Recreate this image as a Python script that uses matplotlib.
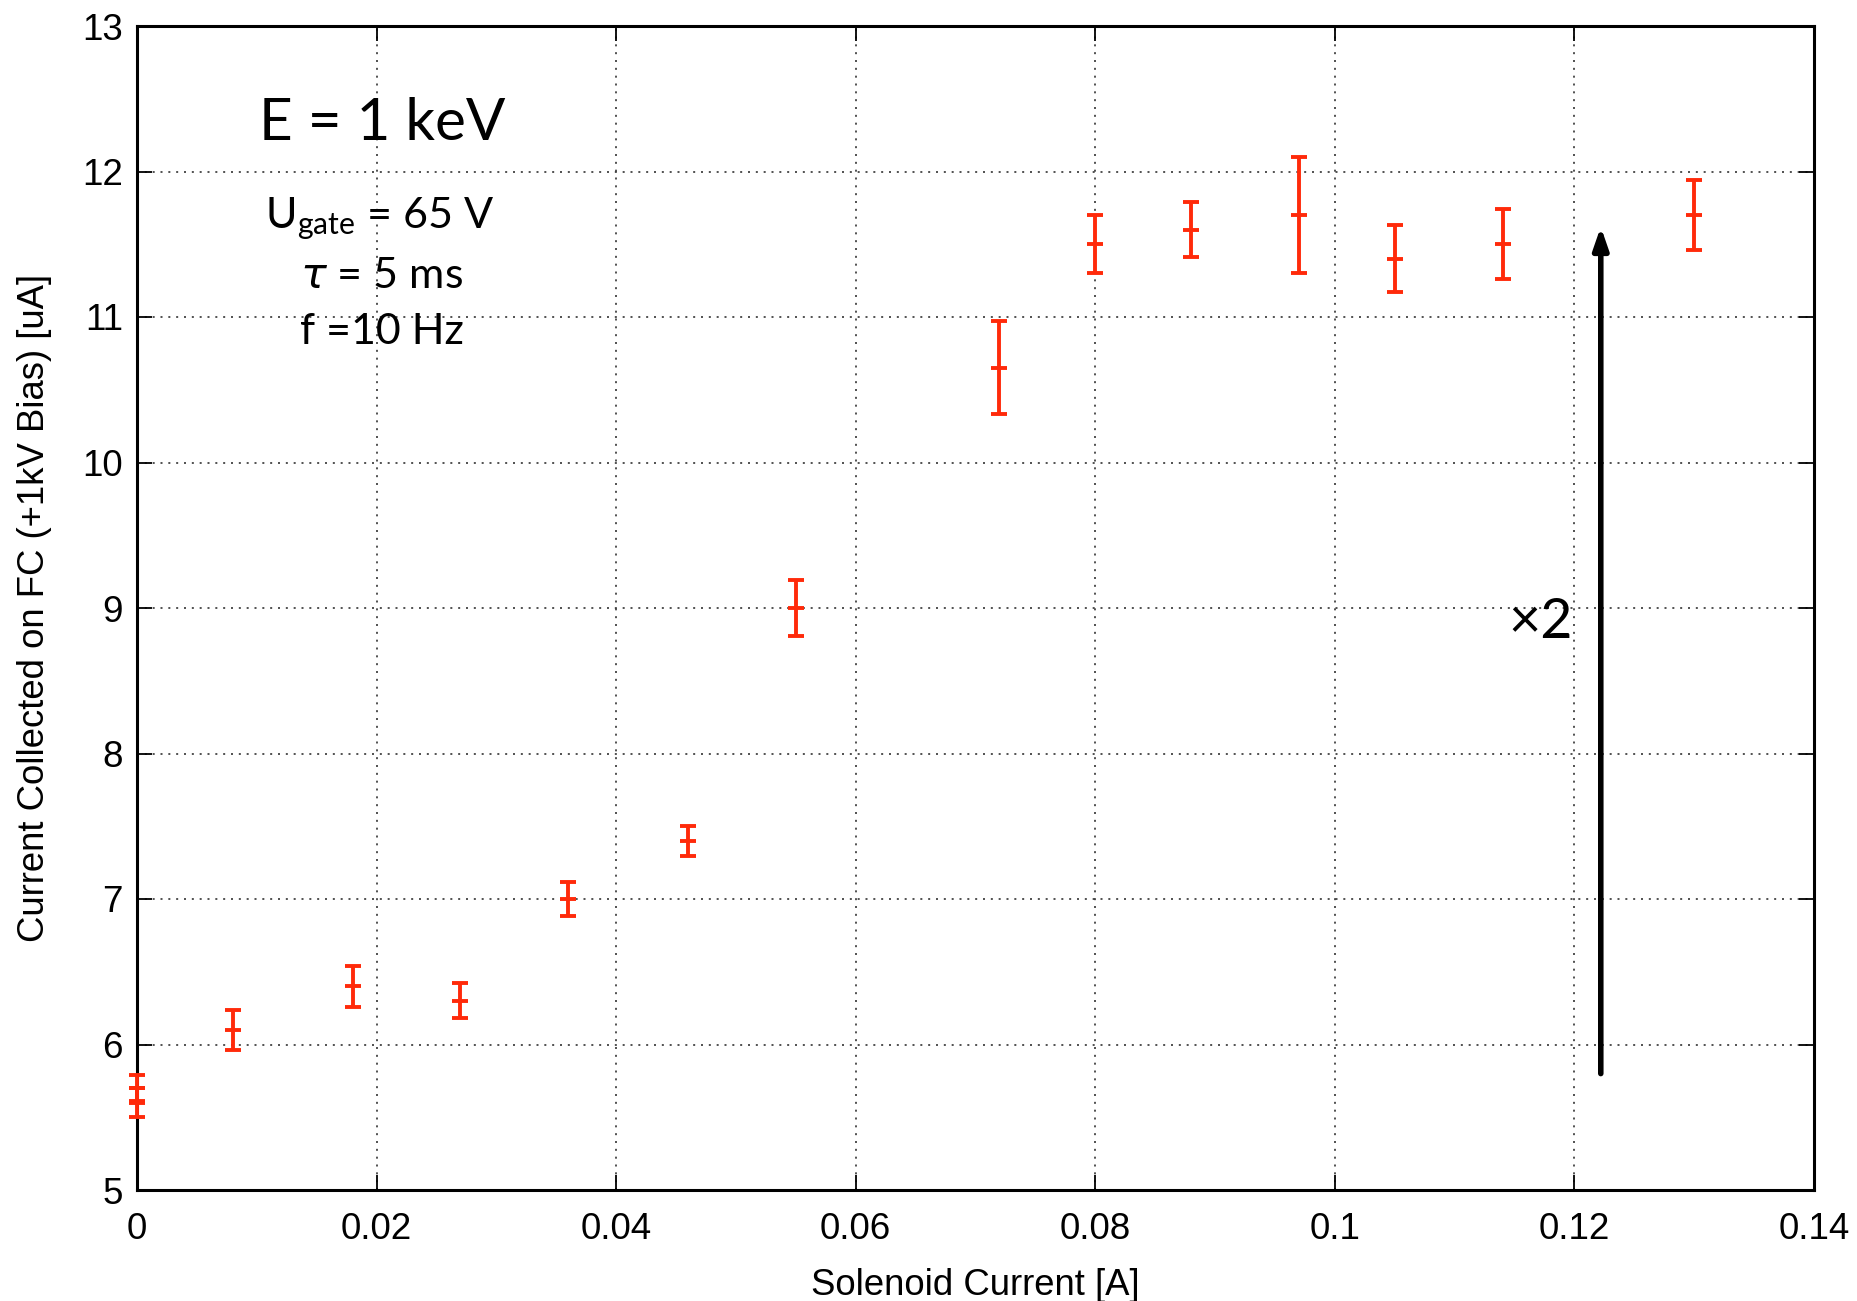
import matplotlib
matplotlib.use("Agg")
import matplotlib.pyplot as plt
import numpy as np

# Data
solenoid_current = [0.0, 0.0, 0.008, 0.018, 0.027, 0.036, 0.046, 0.055, 0.072,
                    0.080, 0.088, 0.097, 0.105, 0.114, 0.130]
fc_current = [5.7, 5.6, 6.1, 6.4, 6.3, 7.0, 7.4, 9.0, 10.65,
              11.5, 11.6, 11.7, 11.4, 11.5, 11.7]
fc_error = [0.09, 0.10, 0.14, 0.14, 0.12, 0.115, 0.105, 0.19, 0.32,
            0.2, 0.19, 0.4, 0.23, 0.24, 0.24]
x_ticks = [0, 0.02, 0.04, 0.06, 0.08, 0.1, 0.12, 0.14]
x_tick_labels = ["0", "0.02", "0.04", "0.06", "0.08", "0.1", "0.12", "0.14"]
y_ticks = [5, 6, 7, 8, 9, 10, 11, 12, 13]
arrow_x = 0.1222
arrow_y = [5.8, 11.62]

W, H = 1857, 1301
fig = plt.figure(figsize=(W / 100, H / 100), dpi=100)
ax = fig.add_axes([137 / W, (H - 1190) / H, (1814 - 137) / W, (1190 - 26) / H])

red = "#ff2a0a"
ax.errorbar(solenoid_current, fc_current, yerr=fc_error, fmt="_", color=red,
            ecolor=red, elinewidth=2.8, capsize=5.8, capthick=2.8,
            markersize=11.5, markeredgewidth=2.8, zorder=3, clip_on=False)

ax.set_xlim(0, 0.14)
ax.set_ylim(5, 13)
ax.set_xticks(x_ticks)
ax.set_xticklabels(x_tick_labels)
ax.set_yticks(y_ticks)

tick_font = "Liberation Sans"
for lab in ax.get_xticklabels() + ax.get_yticklabels():
    lab.set_fontfamily(tick_font)
    lab.set_fontsize(26.5)

ax.tick_params(direction="in", length=11, width=1.3, top=True, right=True,
               pad=16, colors="black")
ax.tick_params(axis="y", pad=10)
for s in ax.spines.values():
    s.set_linewidth(2.2)

ax.grid(True, linestyle=(0, (1.2, 3.5)), color="#333333", linewidth=1.2, zorder=0)

ax.set_xlabel("Solenoid Current [A]", fontfamily=tick_font, fontsize=26.3, labelpad=15)
ax.set_ylabel("Current Collected on FC (+1kV Bias) [uA]", fontfamily=tick_font,
              fontsize=26.3, labelpad=22)

# Annotation box
ann_font = ["Lato", "DejaVu Sans"]
ax.add_patch(plt.Rectangle((220, H - 372), 323, 305, transform=None,
                           facecolor="white", edgecolor="none", zorder=1))
fig.text(382 / W, 1 - 123 / H, "E = 1 keV", fontfamily=ann_font, fontsize=42,
         ha="center", va="center")
fig.text(380 / W, 1 - 219 / H, r"U$_\mathregular{gate}$ = 65 V", fontfamily=ann_font,
         fontsize=31, ha="center", va="center")
fig.text(382 / W, 1 - 276 / H, r"$\tau$ = 5 ms", fontfamily=ann_font,
         fontsize=31, ha="center", va="center")
fig.text(382 / W, 1 - 332 / H, "f =10 Hz", fontfamily=ann_font,
         fontsize=31, ha="center", va="center")

ax.annotate("", xy=(arrow_x, arrow_y[1]), xytext=(arrow_x, arrow_y[0]),
            arrowprops=dict(arrowstyle="-|>,head_length=1.3,head_width=0.45",
                            color="black", lw=4, shrinkA=0, shrinkB=0), zorder=4)
fig.text(1573 / W, 1 - 622 / H, "×2", fontfamily=ann_font, fontsize=40,
         ha="right", va="center")

fig.savefig("out.png", dpi=100)
